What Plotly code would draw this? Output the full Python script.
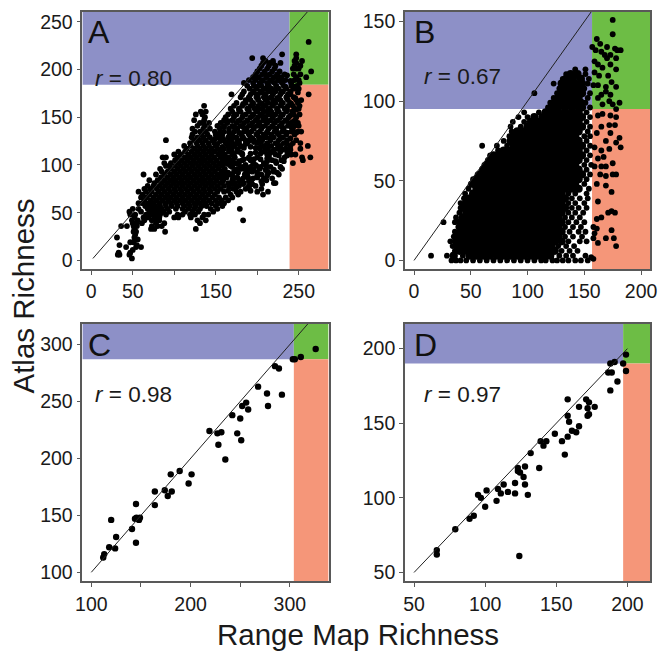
import plotly.graph_objects as go

# ---------- values ----------
a_row_y = [2,6,8,11,14,16,19,22,24,27,30,33,36,39,42,45,48,51,54,57,60,63,66,69,72,75,78,81,84,87,90,93,96,99,102,105,108,111,114,117,120,123,126,129,132,135,138,141,144,147,150,153,156,159,162,165,168,171,174,177,180,183,186,189,192,195,198,201,204,207,209,212,216,229]
a_row_x = [
[49],[32,34,46],[33,47],[50],[42,54,60],[34,55],[47,51],[53,56],[31,52],[53],[51,54,89],[52,72,76,126],
[36,43,51,55,73,80,85],[50,54,61,78,88,131],[49,56,64,73,78,82,128,138,183],[52,63,69,76,82,100,105,120,134],
[47,53,66,72,78,83,90,104,110,119,125,136,141],[46,60,70,75,81,87,94,113,122,129,147],
[50,57,68,73,79,85,92,102,110,117,124,131,144,152,179],[65,71,77,83,90,97,104,112,119,126,133,139,150,158],
[57,62,69,75,82,89,96,103,110,117,124,131,138,145,153,160],[64,72,79,86,93,100,107,114,121,128,135,142,150,157,165],
[60,67,75,82,89,96,103,110,117,124,131,138,146,154,162,170],[62,70,78,85,92,99,106,113,120,127,134,141,149,168,177,207],
[57,66,73,81,88,95,102,109,116,123,130,137,144,152,160,175,180,200,213],[64,71,79,86,93,100,107,114,121,128,135,142,149,156,171,186,205],
[68,75,82,89,96,103,110,117,124,131,138,145,152,160,178,190,198],[76,85,92,99,106,113,120,127,134,141,148,156,165,173,184,220,222],
[70,80,88,95,102,109,116,123,130,137,144,151,159,170,181,193,211],[84,92,99,106,113,120,127,134,141,148,155,163,176,189,200],
[63,78,88,96,103,110,117,124,131,138,145,152,160,168,185,205,226],[85,92,100,107,114,121,128,135,142,149,157,172,194,212,220],
[83,96,104,111,118,125,132,139,146,153,161,181,190,203,230],[90,94,101,108,115,122,129,136,143,150,158,168,185,199,211],
[88,96,105,112,119,126,133,140,147,154,162,172,178,195,208,223,243],[101,109,116,123,130,137,144,151,159,167,182,192,218,229,255],
[86,90,104,113,120,127,134,141,148,156,165,173,190,200,214,233,254,264],[100,108,117,124,131,138,145,153,161,170,182,212,222,241,246],
[105,113,121,128,135,142,149,157,166,176,208,218,228,236],[115,124,131,138,145,152,160,169,203,213,224,234,252],
[112,120,128,135,142,150,165,172,180,208,217,228,240,261],[119,127,134,141,148,162,170,178,188,200,212,222,232,243,252],
[90,124,131,138,146,160,168,176,186,196,206,216,226,236,247],[121,128,135,143,153,165,175,183,192,202,211,220,231],
[122,133,140,150,158,170,181,190,199,208,217,226,235,245],[125,131,138,149,160,172,184,193,203,212,221,230,241,249,253],
[122,135,143,155,166,176,187,196,205,214,223,232,243],[128,137,152,160,170,180,190,200,209,218,227,237,245,250],
[131,135,142,156,164,175,184,194,203,212,221,230,240,249],[124,136,160,170,179,188,198,207,216,225,234,246],
[137,162,172,182,192,201,210,219,228,238,247],[126,134,165,175,186,195,204,213,222,231,244,251],
[132,138,170,180,190,199,208,217,226,235,242],[168,178,188,197,206,215,224,233,245,250],
[136,172,182,192,201,210,219,228,237,243,251],[175,186,195,204,213,222,231,240,249],
[186,192,201,210,219,228,237,247,253],[180,190,199,208,217,226,235,244],
[169,182,192,201,210,219,228,237,240,262],[184,195,204,213,222,231,240],
[191,199,208,217,226,235,244,250],[188,196,205,214,223,232,241,248],
[184,195,203,212,221,230,241,251],[190,198,207,216,225,234,245,250],
[195,202,211,220,229,247,259],[198,206,215,224,233,244,252],
[200,209,218,227,265],[203,212,221,247,250,243],[205,214,222,245,252],[207,215,228,219,247],[210,219,245,254],[194,207,247],[230,247],[262]]
a_extra_row_y = [73,77,80,83,86,89,92,95,98,100,101,104,106,107,110,112,113,116,118,119,122,124,125,128,134,140,146,152,158,164,170,176,182,188,194]
a_extra_row_x = [
[165,192],[166,175,190],[170,183,194,206],[158,178,190,205],[160,172,183,195,208,218],[155,170,188,200,212],
[165,177,188,200,214,224],[160,175,186,196,210,220],[170,180,192,204,216,228],[186,198],[155,165,176,208],
[158,168,178,212,222,232],[184,196,204],[162,172,190,212],[160,172,214,226,236],[182,192,204],[158,170,180,198,216],
[155,166,176,210,220,230,240],[184,198],[158,170,180,192,204],[152,164,175,186,212,224,236],[196,204],
[156,166,178,190,202],[150,158,170,182,194,205,216,228,240],[155,166,178,189,201,212,224,236,247],
[160,172,183,195,206,218,230,241],[165,177,188,200,211,223,235,244],[172,183,195,206,218,229,240],
[178,190,201,213,224,236,247],[183,195,206,218,229,241],[190,201,213,224,236,246],[196,206,218,229,240,249],
[200,212,223,234,244],[206,217,228,240],[212,224,236]]

b_row_y = [0,3,6,9,12,15,18,21,24,27,30,33,36,39,42,45,48,51,54,57,60,63,66,69,72,75,78,81,84,87,90,93,96,99,102,105,108,111,114,117,120]
b_row_x = [
[33,37,41,46,52,58,64,70,76,82,88,94,100,106,112,116,122,126,131,136,142,147,153],
[15,29,35,43,49,55,61,67,73,79,85,91,97,103,109,115,120,128,134,140,151],
[36,40,46,52,58,64,70,76,82,88,94,100,106,112,118,124,130,137,144],
[34,38,43,49,55,61,67,73,79,85,91,97,103,109,115,121,127,134,141],
[32,37,41,46,52,58,64,70,76,82,88,94,100,106,112,118,124,130,136,146,152],
[35,39,43,49,55,61,67,73,79,85,91,97,103,109,115,121,127,133,140,148],
[36,41,46,52,58,64,70,76,82,88,94,100,106,112,118,124,130,137,145,151],
[39,43,49,55,61,67,73,79,85,91,97,103,109,115,121,127,133,140,147],
[26,36,41,46,52,58,64,70,76,82,88,94,100,106,112,118,124,130,136,143,150],
[37,43,49,55,61,67,73,79,85,91,97,103,109,115,121,127,133,139,146],
[40,46,52,58,64,70,76,82,88,94,100,106,112,118,124,130,136,142,149],
[41,43,49,55,61,67,73,79,85,91,97,103,109,115,121,127,133,139,145,152],
[41,46,52,58,64,70,76,82,88,94,100,106,112,118,124,130,136,142,150],
[44,49,55,61,67,73,79,85,91,97,103,109,115,121,127,133,139,146,153],
[45,52,58,64,70,76,82,88,94,100,106,112,118,124,130,136,142,152],
[48,55,61,67,73,79,85,91,97,103,109,115,121,127,133,139,145,154],
[50,52,58,64,70,76,82,88,94,100,106,112,118,124,130,136,142,150],
[52,55,61,67,73,79,85,91,97,103,109,115,121,127,133,139,145,152],
[56,58,64,70,76,82,88,94,100,106,112,118,124,130,136,142,148,155],
[60,61,67,73,79,85,91,97,103,109,115,121,127,133,139,145,152],
[62,64,70,76,82,88,94,100,106,112,118,124,130,136,142,150,156],
[65,67,73,79,85,91,97,103,109,115,121,127,133,139,145,152],
[67,70,76,82,88,94,100,106,112,118,124,130,136,142,148,155],
[74,79,85,91,97,103,109,115,121,127,133,139,145,152],
[60,73,82,88,94,100,106,112,118,124,130,136,142,148,155],
[79,85,91,97,103,109,115,121,127,133,139,145,152],
[84,88,94,100,106,112,118,124,130,136,142,150,155],
[86,91,97,103,109,115,121,127,133,139,145,153],
[85,94,100,106,112,118,124,130,136,142,148,155],
[87,97,103,109,115,121,127,133,139,145,152],
[92,100,106,113,118,124,130,136,142,148,155],
[97,110,116,121,127,133,139,145,152],
[118,122,127,133,139,145,148,155],
[120,124,130,136,142,147,151],
[123,127,133,139,145,153],
[106,126,130,136,142,148,155],
[128,133,139,145,150],
[123,130,136,142,148,153],
[131,134,140,147,154],
[134,138,144,151],
[142,151]]
b_right_x = [175,175,161,164,157,170,182,177,179,160,165,173,168,170,178,159,162,166,173,178,159,163,171,174,169,178,162,158,165,169,173,181,172,175,162,166,178,178,173,166,162,172,177,165,173,161,181,169,178,182,172,165,159,167,162,175,169,165,159,175,178,169,164,161,169,174,162,174,171,177,165,161,158,161,174,159,158,169,176,162,178,158,156]
b_right_y = [151,142,139,136,134,134,132,133,132,132,131,129,129,127,127,125,123,121,123,120,118,116,116,112,109,109,110,110,104,106,104,99,100,98,102,98,95,90,91,92,91,85,85,84,80,80,77,75,74,71,70,69,71,65,64,61,59,59,59,54,54,53,54,48,47,43,37,31,30,30,27,26,21,20,19,17,14,14,14,11,9,1,2]

c_x = [326,311,303,305,285,289,268,277,278,292,256,252,258,250,242,219,227,231,247,251,228,235,189,180,201,198,164,174,181,177,145,164,120,144,145.5,149,148,141,125,145,118,124,113,112]
c_y = [296,289,287,287,281,279,263,257,246,256,249,246,243,235,238,224,222,223,222,216,212,199,189,186,186,178,171,172,171,167,160,159,146,147,148,148,146,138,131,126,122,121,116,113]

d_x = [199,197,188,191,199,186.5,189,193,188,158,171,173,166,177,172,158,172,173,159,166,161,164,158,149,154,139,143,141,156,132,138,128,123,123,124.5,127,128,121,113,109,101,111,116,121,130,95,97,108,100,92,89,79,66,66,124]
d_y = [196,190,190,191,185,184,184,178,172,166,166,164,161,161,160,155,155,156,151,148,145,144,141,143,138,138,138,135,129,130,120,121,120,118,117,114,109,110,109,106,105,103,104,103,102,102,100,98,94,88,86,79,65,62,61]

panel_names = ["A", "B", "C", "D"]
r_labels = ["0.80", "0.67", "0.98", "0.97"]
x_ranges = [(-10.7, 286), (-8, 208), (91, 339), (43.6, 216)]
y_ranges = [(-9.4, 260.4), (-5.6, 156), (92, 318), (44, 216.5)]
x_cuts = [239, 156.8, 304, 197]
y_cuts = [184, 95, 287, 190]
line_ends = [(2, 262), (0, 156), (100, 318), (50, 200)]
x_tick_vals = [[0,50,100,150,200,250], [0,50,100,150,200], [100,150,200,250,300], [50,100,150,200]]
x_tick_text = [["0","50","","150","","250"], ["0","50","100","150","200"], ["100","","200","","300"], ["50","100","150","200"]]
y_tick_vals = [[0,50,100,150,200,250], [0,50,100,150], [100,150,200,250,300], [50,100,150,200]]

a_x = [x for row in a_row_x for x in row] + [x for row in a_extra_row_x for x in row]
a_y = [y for y, row in zip(a_row_y, a_row_x) for _ in row] + [y for y, row in zip(a_extra_row_y, a_extra_row_x) for _ in row]
b_x = [x for row in b_row_x for x in row] + b_right_x
b_y = [y for y, row in zip(b_row_y, b_row_x) for _ in row] + b_right_y

DOT = 5.8
CORE_DOT = 8.2
# interior points of panel B's packed rows are drawn a little larger so the solid mass closes up
b_sizes = [CORE_DOT if (k > 0 and 1 <= j < len(row) - (3 if b_row_y[k] < 45 else 1) and x - row[j - 1] <= 7) else DOT
           for k, row in enumerate(b_row_x) for j, x in enumerate(row)] + [DOT] * len(b_right_x)
series = [(a_x, a_y, DOT), (b_x, b_y, b_sizes), (c_x, c_y, DOT + 0.6), (d_x, d_y, DOT + 0.6)]

# ---------- layout ----------
W, H = 665, 652
def fx(px):
    # horizontal pixel in the picture -> paper fraction, calibrated against the rendered page
    return ((px - 2.5) / 0.9917 - 5) / W
box_x = [(77, 328.5), (406.5, 657), (77, 328.5), (406.5, 657)]
box_y = [(10, 269), (10, 269), (324, 583), (324, 583)]
letter_pos = [(87, 30), (418, 30), (87, 345), (418, 345)]
r_pos = [(95, 77), (428, 75), (95, 395), (428, 395)]
BLUE, GREEN, RED = "#8D90C7", "#6DBD45", "#F59679"
EDGE = "#595959"
FONT = "Liberation Sans, Arial, sans-serif"

fig = go.Figure()
layout = dict(
    width=W, height=H, margin=dict(l=0, r=0, t=0, b=0),
    paper_bgcolor="white", plot_bgcolor="white", showlegend=False,
    font=dict(family=FONT, color="#1a1a1a"),
)
shapes, notes = [], []

for i in range(4):
    suf = "" if i == 0 else str(i + 1)
    ref = "" if i == 0 else str(i + 1)
    l, r = box_x[i]
    t, b = box_y[i]
    layout["xaxis" + suf] = dict(
        domain=[l / W, r / W], range=list(x_ranges[i]), anchor="y" + ref,
        tickmode="array", tickvals=x_tick_vals[i], ticktext=x_tick_text[i],
        ticks="outside", ticklen=4, tickwidth=1, tickcolor=EDGE,
        showgrid=False, zeroline=False, showline=True, linecolor=EDGE, linewidth=1.5,
        mirror=True, tickfont=dict(size=19.5, family=FONT, color="#1a1a1a"),
    )
    layout["yaxis" + suf] = dict(
        domain=[1 - b / H, 1 - t / H], range=list(y_ranges[i]), anchor="x" + ref,
        tickmode="array", tickvals=y_tick_vals[i],
        ticks="outside", ticklen=4, tickwidth=1, tickcolor=EDGE,
        showgrid=False, zeroline=False, showline=True, linecolor=EDGE, linewidth=1.5,
        mirror=True, tickfont=dict(size=19.5, family=FONT, color="#1a1a1a"),
    )
    xr, yr = "x" + ref, "y" + ref
    x0, x1 = x_ranges[i]
    y0, y1 = y_ranges[i]
    for c, (ax, bx, ay, by) in zip(
        (BLUE, GREEN, RED),
        ((x0, x_cuts[i], y_cuts[i], y1), (x_cuts[i], x1, y_cuts[i], y1), (x_cuts[i], x1, y0, y_cuts[i])),
    ):
        shapes.append(dict(type="rect", xref=xr, yref=yr, x0=ax, x1=bx, y0=ay, y1=by,
                           fillcolor=c, line=dict(width=0), layer="below"))
    px, py, sz = series[i]
    fig.add_trace(go.Scatter(x=px, y=py, mode="markers", xaxis=xr, yaxis=yr, hoverinfo="skip",
                             marker=dict(color="black", size=sz, opacity=1, line=dict(width=0))))
    fig.add_trace(go.Scatter(x=list(line_ends[i]), y=list(line_ends[i]), mode="lines", xaxis=xr, yaxis=yr,
                             hoverinfo="skip", line=dict(color="#222222", width=1)))
    lx, ly = letter_pos[i]
    notes.append(dict(text=panel_names[i], xref="paper", yref="paper", x=fx(lx), y=1 - ly / H,
                      xanchor="left", yanchor="middle", showarrow=False,
                      font=dict(size=32, family=FONT, color="#111111")))
    rx, ry = r_pos[i]
    notes.append(dict(text="<i>r</i> = " + r_labels[i], xref="paper", yref="paper", x=fx(rx), y=1 - ry / H,
                      xanchor="left", yanchor="middle", showarrow=False,
                      font=dict(size=22.5, family=FONT, color="#1a1a1a")))

notes.append(dict(text="Range Map Richness", xref="paper", yref="paper", x=fx(363), y=1 - 636 / H,
                  xanchor="center", yanchor="middle", showarrow=False,
                  font=dict(size=29.5, family=FONT, color="#1a1a1a")))
notes.append(dict(text="Atlas Richness", xref="paper", yref="paper", x=fx(24), y=1 - 296 / H,
                  xanchor="center", yanchor="middle", showarrow=False, textangle=-90,
                  font=dict(size=29.5, family=FONT, color="#1a1a1a")))

fig.update_layout(**layout, shapes=shapes, annotations=notes)
fig.write_html("out.html", include_plotlyjs=True, config=dict(displayModeBar=False),
               post_script="document.body.style.margin='0';document.documentElement.style.overflow='hidden';")
